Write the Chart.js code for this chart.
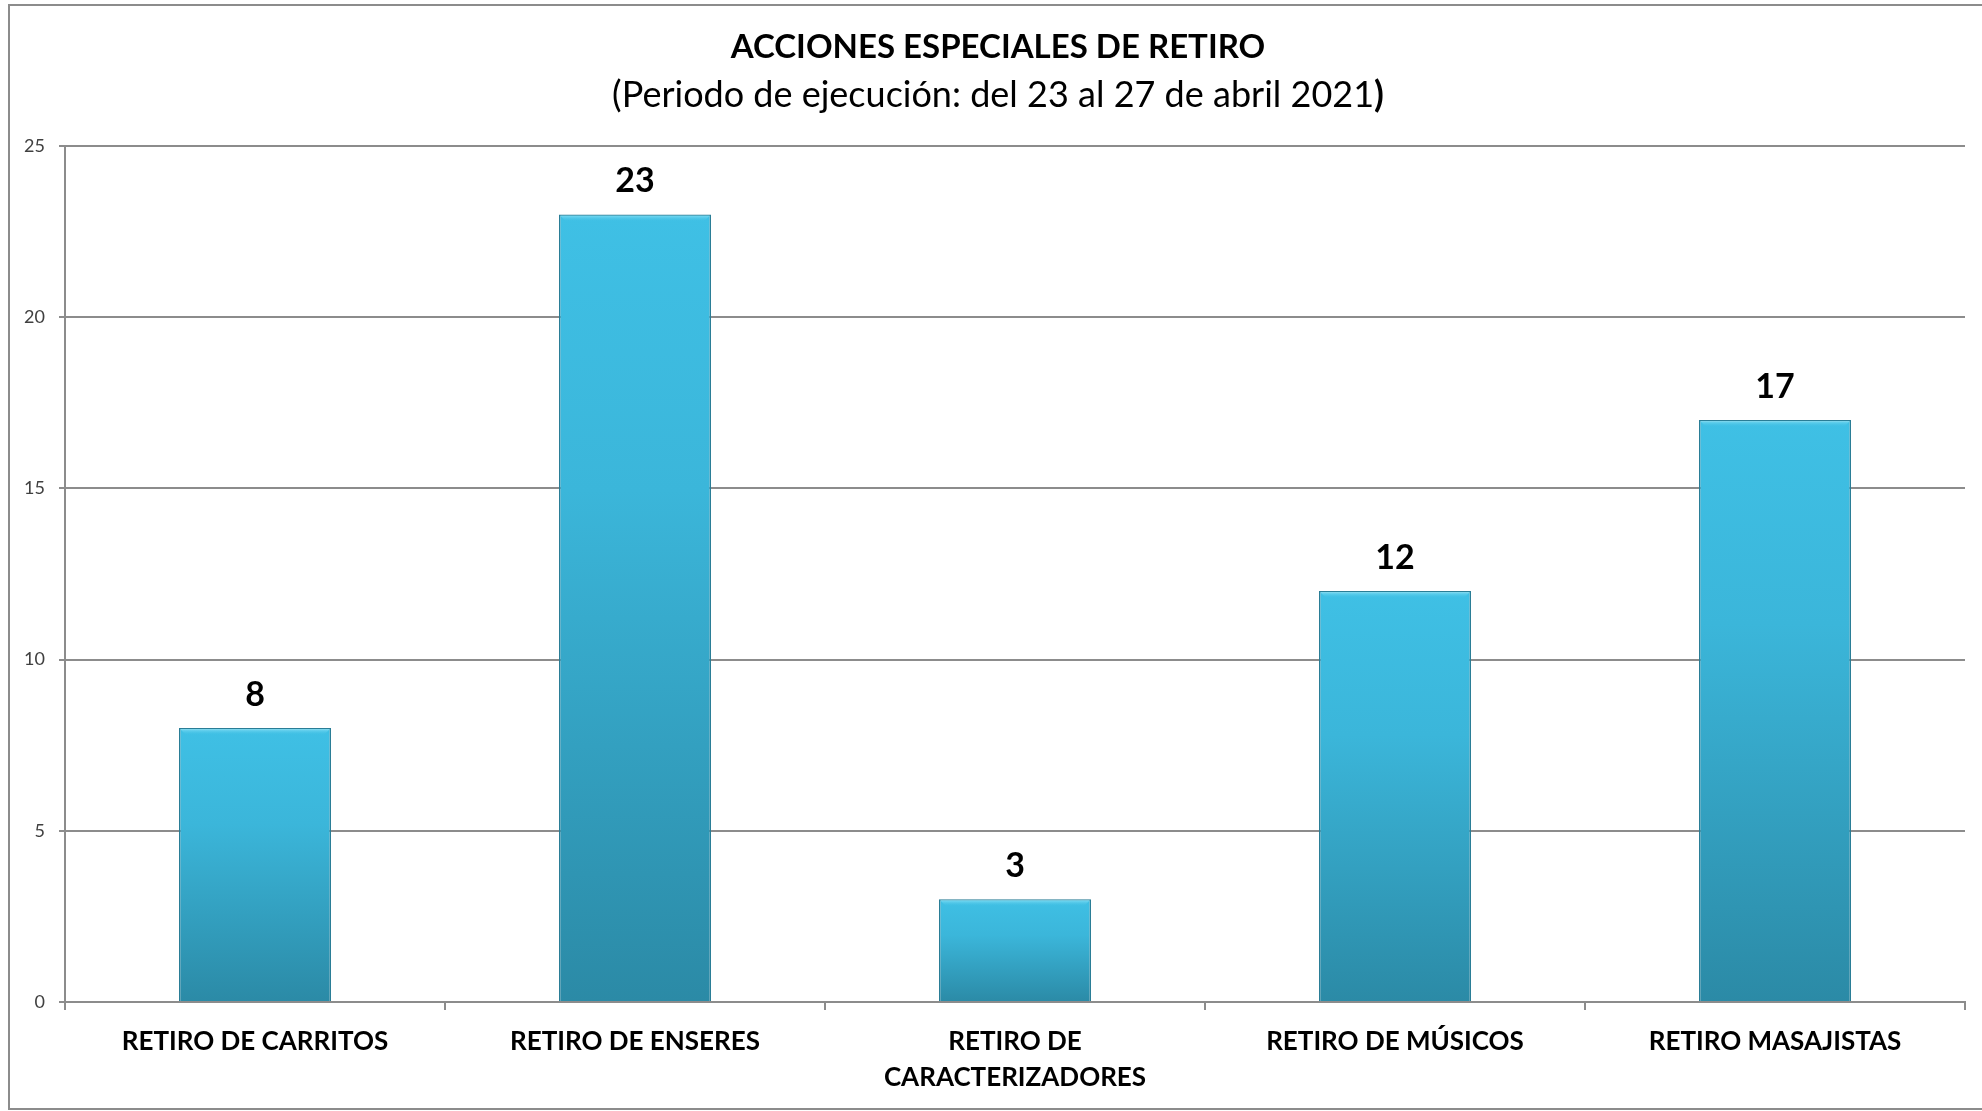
<!DOCTYPE html>
<html>
<head>
<meta charset="utf-8">
<script src="https://cdn.jsdelivr.net/npm/chart.js@4/dist/chart.umd.min.js"></script>
<style>
  html, body { margin: 0; padding: 0; background: #fff; }
  #wrap { width: 1982px; height: 1111px; }
</style>
</head>
<body>
<div id="wrap"><canvas id="retiroChart" width="1982" height="1111"></canvas></div>
<script>
const chartTitle = 'ACCIONES ESPECIALES DE RETIRO';
const chartSubtitle = '(Periodo de ejecución: del 23 al 27 de abril 2021';
const categories = [
    'RETIRO DE CARRITOS',
    'RETIRO DE ENSERES',
    ['RETIRO DE', 'CARACTERIZADORES'],
    'RETIRO DE MÚSICOS',
    'RETIRO MASAJISTAS'
];
const values = [8, 23, 3, 12, 17];
const yTicks = [0, 5, 10, 15, 20, 25];

const FONT = 'Lato, "Open Sans", sans-serif';
const GRID = '#8c8c8c';

// white page with the grey frame round it
const framePlugin = {
    id: 'frame',
    beforeDraw: (chart) => {
        const {ctx} = chart;
        ctx.save();
        ctx.fillStyle = '#ffffff';
        ctx.fillRect(0, 0, chart.width, chart.height);
        ctx.strokeStyle = GRID;
        ctx.lineWidth = 2;
        ctx.strokeRect(9, 5, chart.width + 20, chart.height - 7);
        ctx.restore();
    }
};

// title + subtitle, the closing bracket is bold in the original
const titlePlugin = {
    id: 'twoTitles',
    afterDraw: (chart) => {
        const {ctx} = chart;
        const cx = 998;
        ctx.save();
        ctx.fillStyle = '#000';
        ctx.textBaseline = 'middle';
        ctx.textAlign = 'center';
        ctx.font = 'bold 33px ' + FONT;
        ctx.fillText(chartTitle, cx, 47);

        ctx.font = '36px ' + FONT;
        const w1 = ctx.measureText(chartSubtitle).width;
        ctx.font = 'bold 36px ' + FONT;
        const w2 = ctx.measureText(')').width;
        const x0 = cx - (w1 + w2) / 2;
        ctx.textAlign = 'left';
        ctx.font = '36px ' + FONT;
        ctx.fillText(chartSubtitle, x0, 95);
        ctx.font = 'bold 36px ' + FONT;
        ctx.fillText(')', x0 + w1, 95);
        ctx.restore();
    }
};

// bevel highlight on bar tops and the value labels
const barExtras = {
    id: 'barExtras',
    afterDatasetsDraw: (chart) => {
        const {ctx} = chart;
        const meta = chart.getDatasetMeta(0);
        ctx.save();
        meta.data.forEach((bar, i) => {
            const left = bar.x - bar.width / 2;
            const right = bar.x + bar.width / 2;
            const g = ctx.createLinearGradient(0, bar.y, 0, bar.y + 7);
            g.addColorStop(0, '#8fe3f7');
            g.addColorStop(1, 'rgba(64,192,228,0)');
            ctx.fillStyle = g;
            ctx.beginPath();
            ctx.moveTo(left + 1, bar.y + 1);
            ctx.lineTo(right - 1, bar.y + 1);
            ctx.lineTo(right - 8, bar.y + 8);
            ctx.lineTo(left + 8, bar.y + 8);
            ctx.closePath();
            ctx.fill();

            ctx.fillStyle = '#000';
            ctx.font = 'bold 34px ' + FONT;
            ctx.textAlign = 'center';
            ctx.textBaseline = 'middle';
            ctx.fillText(values[i], bar.x, bar.y - 33);
        });
        ctx.restore();
    }
};

function barGradient(context) {
    const chart = context.chart;
    const y = chart.scales.y;
    if (!y || !chart.chartArea) return '#39b2d6';
    const top = y.getPixelForValue(context.raw);
    const bottom = y.getPixelForValue(0);
    const g = chart.ctx.createLinearGradient(0, top, 0, bottom);
    g.addColorStop(0, '#3fc0e5');
    g.addColorStop(0.35, '#3bb6da');
    g.addColorStop(1, '#2b8aa6');
    return g;
}

const config = {
    type: 'bar',
    data: {
        labels: categories,
        datasets: [{
            label: 'Acciones',
            data: values,
            backgroundColor: barGradient,
            borderColor: '#2a7d96',
            borderWidth: 1.5,
            categoryPercentage: 0.4,
            barPercentage: 1
        }]
    },
    options: {
        responsive: false,
        animation: false,
        layout: {
            padding: {top: 146, right: 17, bottom: 0, left: 0}
        },
        plugins: {
            legend: {display: false},
            title: {display: false},
            tooltip: {enabled: false}
        },
        scales: {
            x: {
                grid: {
                    display: true,
                    drawOnChartArea: false,
                    drawTicks: true,
                    tickLength: 8,
                    color: GRID,
                    lineWidth: 2
                },
                border: {display: true, color: GRID, width: 2},
                ticks: {
                    color: '#000',
                    padding: 13,
                    maxRotation: 0,
                    autoSkip: false,
                    font: {family: FONT, size: 26, weight: 'bold', lineHeight: 1.4}
                },
                afterFit: (scale) => { scale.height = 109; }
            },
            y: {
                min: 0,
                max: 25,
                afterBuildTicks: (scale) => {
                    scale.ticks = yTicks.map(v => ({value: v}));
                },
                grid: {
                    color: GRID,
                    lineWidth: 2,
                    drawTicks: true,
                    tickLength: 6
                },
                border: {display: true, color: GRID, width: 2},
                ticks: {
                    color: '#404040',
                    padding: 14,
                    font: {family: FONT, size: 18}
                },
                afterFit: (scale) => { scale.width = 65; }
            }
        }
    },
    plugins: [framePlugin, titlePlugin, barExtras]
};

new Chart(document.getElementById('retiroChart'), config);
</script>
</body>
</html>
